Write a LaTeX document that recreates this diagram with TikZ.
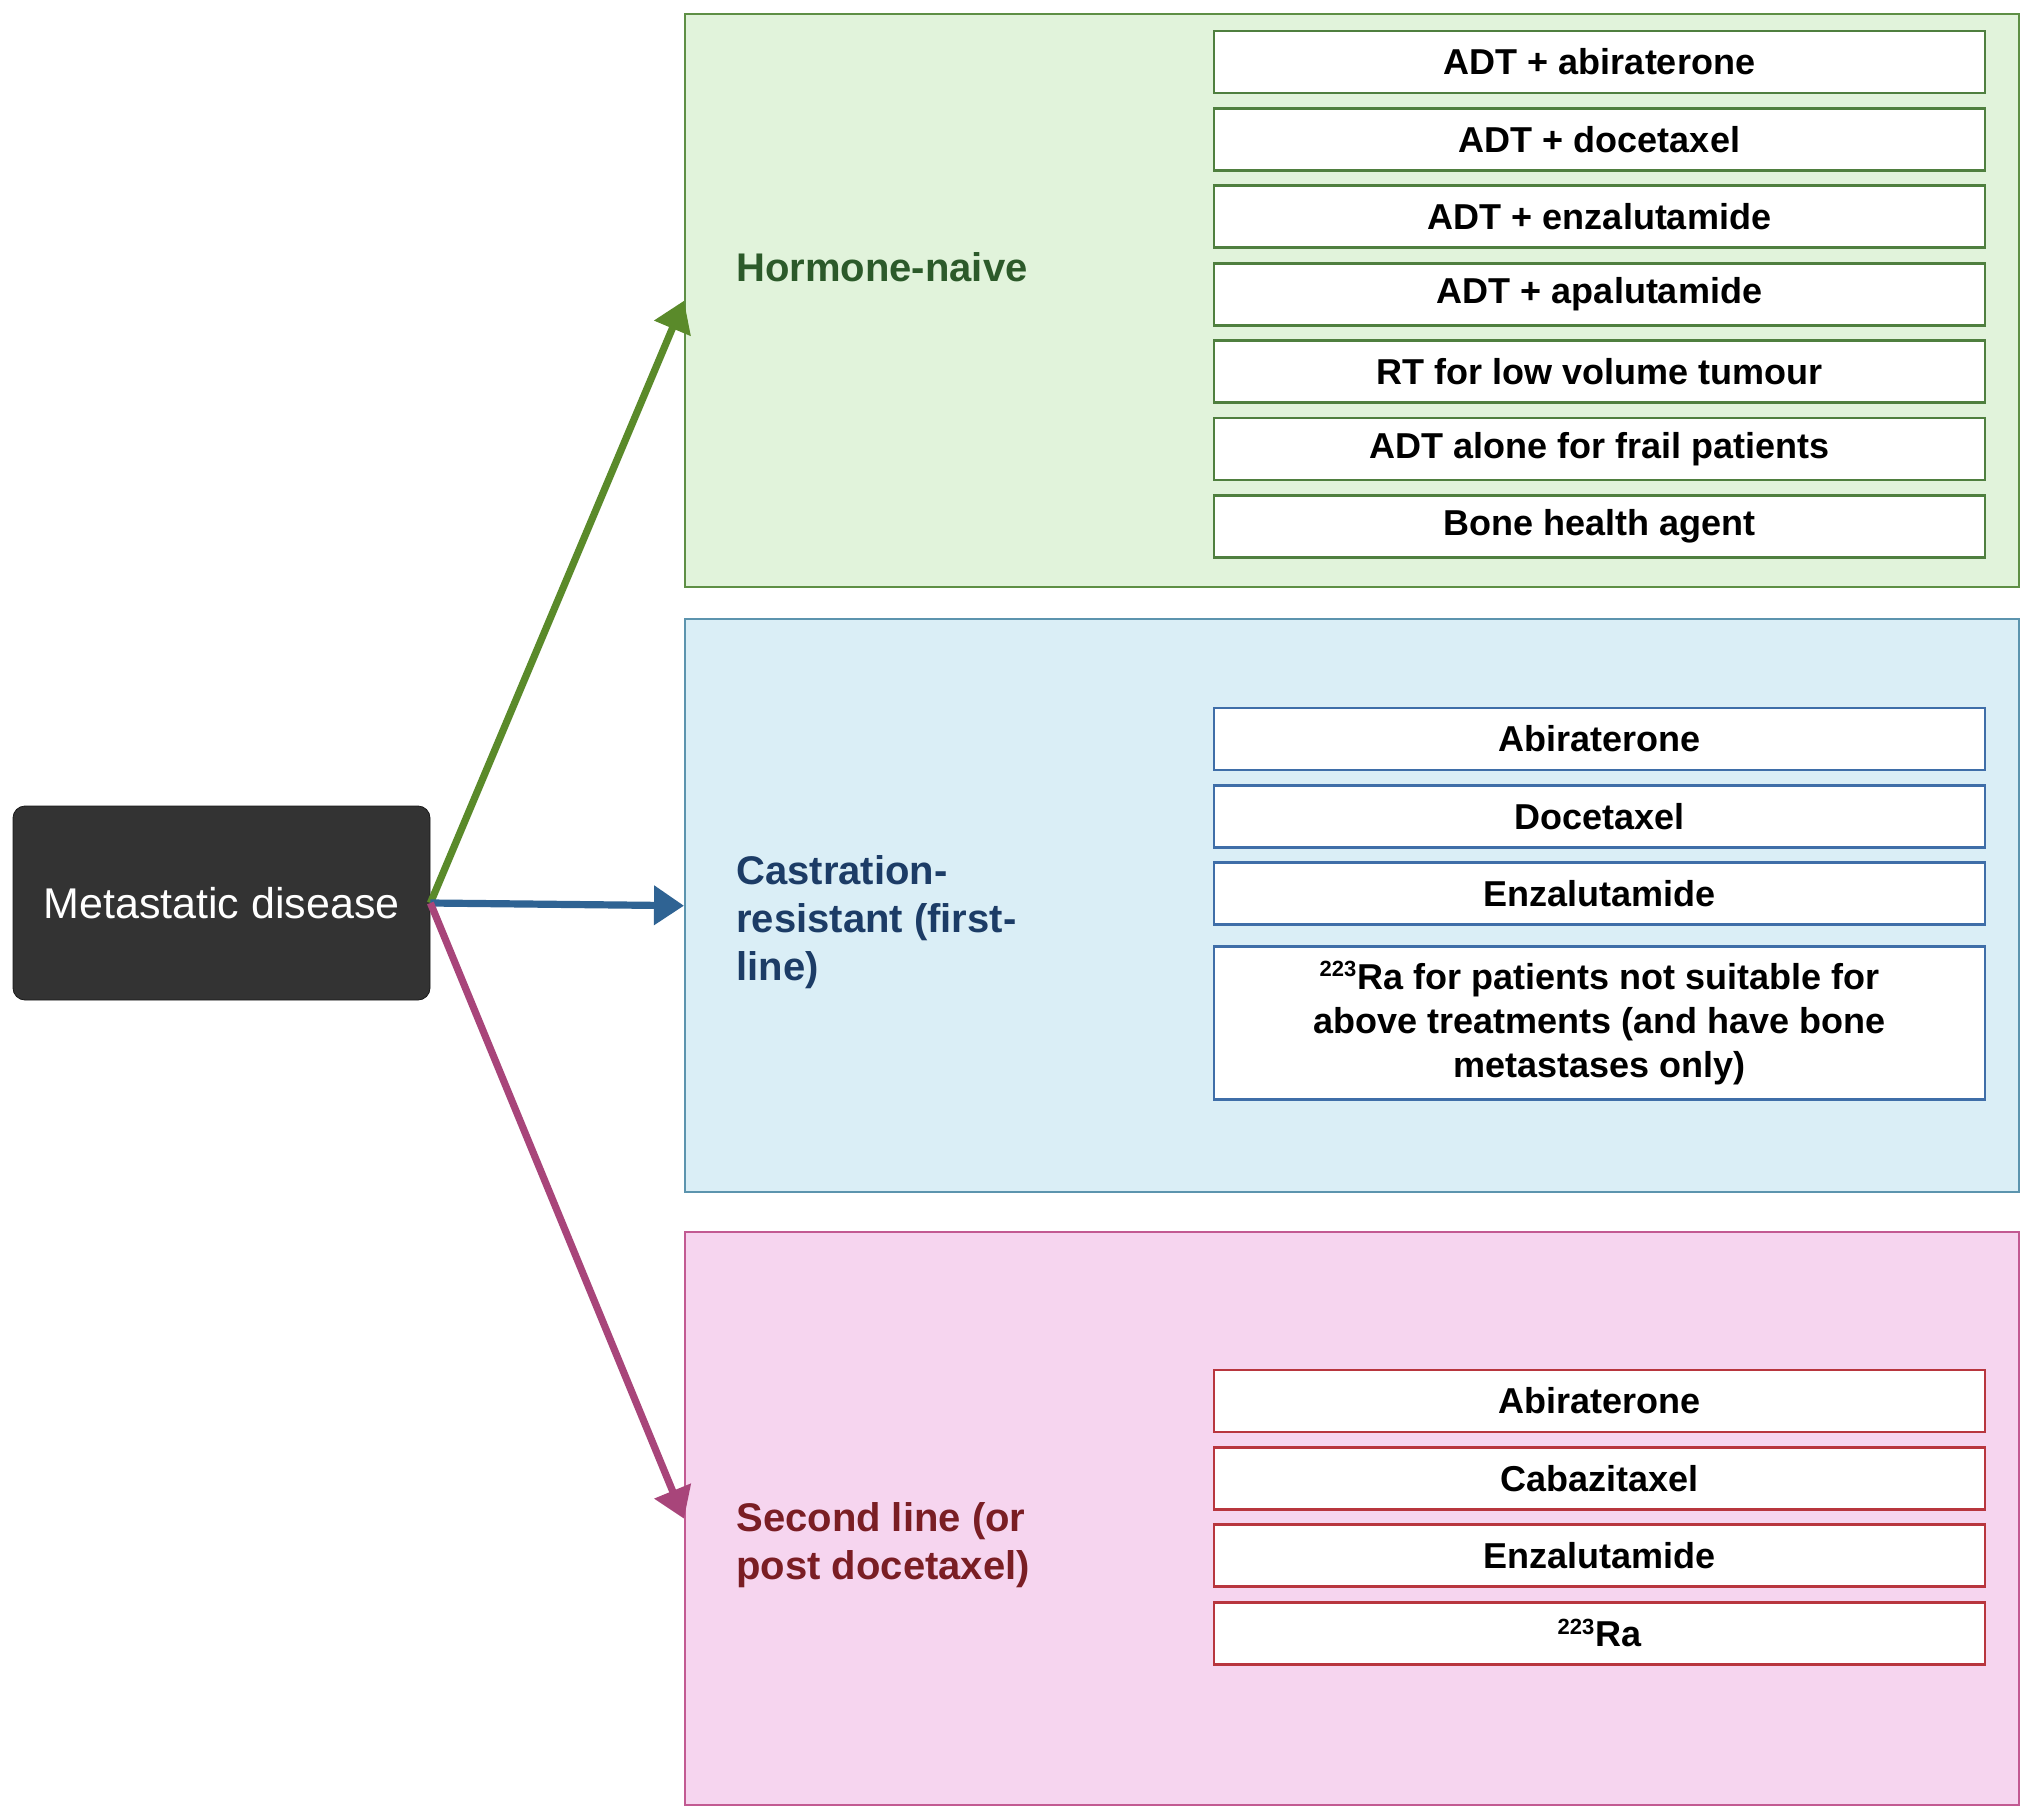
\documentclass[tikz,border=0pt]{standalone}
\usepackage{fontspec}
\setmainfont{Liberation Sans}
\usepackage{tikz}
\usetikzlibrary{shapes, arrows.meta, positioning}
\definecolor{hnfill}{HTML}{E1F3DB}
\definecolor{hnline}{HTML}{5E8F45}
\definecolor{hnarrow}{HTML}{5A8A2A}
\definecolor{hntext}{HTML}{2C5A2A}
\definecolor{hnitem}{HTML}{4F7F3F}
\definecolor{crfill}{HTML}{DAEEF6}
\definecolor{crline}{HTML}{5C94AE}
\definecolor{crarrow}{HTML}{2F6393}
\definecolor{crtext}{HTML}{1C3C66}
\definecolor{critem}{HTML}{3F6EA8}
\definecolor{slfill}{HTML}{F6D5EF}
\definecolor{slline}{HTML}{C25A92}
\definecolor{slarrow}{HTML}{A8457A}
\definecolor{sltext}{HTML}{7A1E24}
\definecolor{slitem}{HTML}{B8363E}
\tikzstyle{panel} = [draw, rectangle, line width=1.2pt, minimum width=667pt, minimum height=286.5pt, anchor=north west]
\tikzstyle{item} = [draw, fill=white, rectangle, line width=1.4pt, minimum width=385.5pt, minimum height=31pt, inner sep=0pt, font=\fontsize{18}{22}\selectfont\bfseries]
\tikzstyle{stage} = [anchor=west, align=left, inner sep=0pt, font=\fontsize{20}{24}\selectfont\bfseries]
\newcommand{\ra}{\textsuperscript{\fontsize{11}{11}\selectfont 223}Ra}

\begin{document}
\begin{tikzpicture}[x=0.5pt, y=-0.5pt, >={Triangle[length=15pt, width=19pt]}]
    \useasboundingbox (0,0) rectangle (2032,1818);
    % stages
    \node[panel, fill=hnfill, draw=hnline] (hn) at (684,13) {};
    \node[panel, fill=crfill, draw=crline] (cr) at (684,618) {};
    \node[panel, fill=slfill, draw=slline] (sl) at (684,1231) {};
    \node[stage, text=hntext] (hnlabel) at (736,267) {Hormone-naive};
    \node[stage, text=crtext] (crlabel) at (736,922) {Castration-\\resistant (first-\\line)};
    \node[stage, text=sltext] (sllabel) at (736,1545) {Second line (or\\post docetaxel)};
    % hormone-naive
    \node[item, draw=hnitem] (h1) at (1599.5,62) {ADT + abiraterone};
    \node[item, draw=hnitem, below of=h1, node distance=38.7pt] (h2) {ADT + docetaxel};
    \node[item, draw=hnitem, below of=h2, node distance=38.7pt] (h3) {ADT + enzalutamide};
    \node[item, draw=hnitem, below of=h3, node distance=38.7pt] (h4) {ADT + apalutamide};
    \node[item, draw=hnitem, below of=h4, node distance=38.7pt] (h5) {RT for low volume tumour};
    \node[item, draw=hnitem, below of=h5, node distance=38.7pt] (h6) {ADT alone for frail patients};
    \node[item, draw=hnitem, below of=h6, node distance=38.7pt] (h7) {Bone health agent};
    % castration-resistant
    \node[item, draw=critem] (c1) at (1599.5,739) {Abiraterone};
    \node[item, draw=critem, below of=c1, node distance=38.7pt] (c2) {Docetaxel};
    \node[item, draw=critem, below of=c2, node distance=38.7pt] (c3) {Enzalutamide};
    \node[item, draw=critem, below of=c3, node distance=64.5pt, minimum height=76.5pt, align=center] (c4) {\ra{} for patients not suitable for\\above treatments (and have bone\\metastases only)};
    % second line
    \node[item, draw=slitem] (s1) at (1599.5,1401) {Abiraterone};
    \node[item, draw=slitem, below of=s1, node distance=38.7pt] (s2) {Cabazitaxel};
    \node[item, draw=slitem, below of=s2, node distance=38.7pt] (s3) {Enzalutamide};
    \node[item, draw=slitem, below of=s3, node distance=38.7pt] (s4) {\ra};
    % disease
    \node[draw=black!90, fill=black!80, rounded corners=6pt, minimum width=208.5pt, minimum height=97pt, text=white, font=\fontsize{21.5}{25}\selectfont] (dis) at (221.5,903) {Metastatic disease};
    \draw[->, line width=3.6pt, hnarrow] (dis.east) -- (hn.west);
    \draw[->, line width=3.6pt, crarrow] (dis.east) -- (cr.west);
    \draw[->, line width=3.6pt, slarrow] (dis.east) -- (sl.west);
\end{tikzpicture}
\end{document}
